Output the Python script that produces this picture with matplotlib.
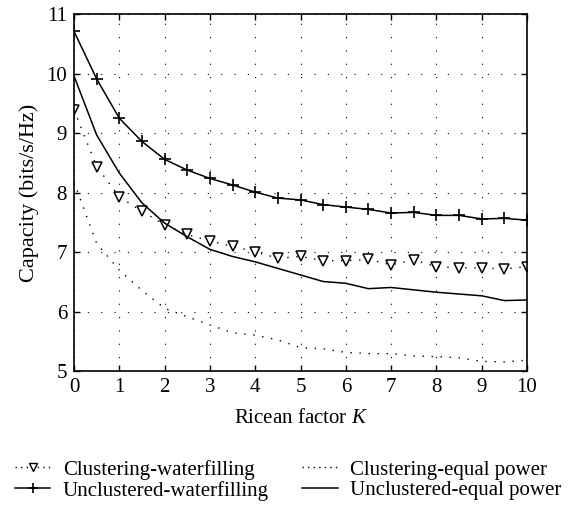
import matplotlib
matplotlib.use("Agg")
import matplotlib.pyplot as plt
from matplotlib.lines import Line2D

K = [0, 0.5, 1, 1.5, 2, 2.5, 3, 3.5, 4, 4.5, 5, 5.5, 6, 6.5, 7, 7.5, 8, 8.5, 9, 9.5, 10]

clustering_wf = [9.39, 8.44, 7.93, 7.69, 7.46, 7.30, 7.19, 7.10, 7.01, 6.90, 6.93, 6.86, 6.86,
                 6.88, 6.79, 6.87, 6.76, 6.74, 6.74, 6.72, 6.76]
unclustered_wf = [10.71, 9.91, 9.25, 8.86, 8.56, 8.38, 8.24, 8.13, 8.01, 7.91, 7.88, 7.80, 7.76,
                  7.72, 7.66, 7.67, 7.62, 7.62, 7.56, 7.57, 7.54]
clustering_eq = [8.18, 7.15, 6.70, 6.36, 6.06, 5.92, 5.78, 5.65, 5.61, 5.53, 5.40, 5.38, 5.32,
                 5.30, 5.30, 5.26, 5.25, 5.23, 5.17, 5.16, 5.19]
unclustered_eq = [9.96, 8.97, 8.33, 7.83, 7.49, 7.26, 7.05, 6.93, 6.84, 6.73, 6.62, 6.51, 6.48,
                  6.39, 6.41, 6.37, 6.33, 6.30, 6.27, 6.19, 6.20]

labels = ["Clustering-waterfilling", "Unclustered-waterfilling",
          "Clustering-equal power", "Unclustered-equal power"]

plt.rcParams['font.family'] = ['Liberation Serif', 'DejaVu Serif']
plt.rcParams['mathtext.fontset'] = 'custom'
plt.rcParams['mathtext.it'] = 'Liberation Serif:italic'
plt.rcParams['mathtext.rm'] = 'Liberation Serif'

fig = plt.figure(figsize=(5.71, 5.07), dpi=100)
ax = fig.add_axes([0.1296, 0.2673, 0.7934, 0.7051])

lw = 1.1
dot = (0, (1, 5.5))
ax.plot(K, clustering_wf, color='black', linestyle=dot, lw=1.0,
        marker='v', markersize=7, markerfacecolor='white', markeredgecolor='black',
        markeredgewidth=1.1)
ax.plot(K, unclustered_wf, color='black', linestyle='-', lw=lw,
        marker='+', markersize=8, markeredgewidth=1.2)
ax.plot(K, clustering_eq, color='black', linestyle=dot, lw=1.0)
ax.plot(K, unclustered_eq, color='black', linestyle='-', lw=lw)

ax.set_xlim(0, 10)
ax.set_ylim(5, 11)
ax.set_xticks(range(0, 11))
ax.set_yticks(range(5, 12))
ax.grid(True, color='black', linestyle=(0, (1, 11)), lw=0.8)
ax.tick_params(direction='in', top=True, right=True, length=4, width=1, labelsize=15, pad=5)
for s in ax.spines.values():
    s.set_linewidth(1.2)

ax.set_xlabel(r"Ricean factor $K$", fontsize=15, labelpad=8)
ax.set_ylabel("Capacity (bits/s/Hz)", fontsize=16, labelpad=5)

handles = [
    Line2D([], [], color='black', linestyle=(0, (1, 3)), lw=1.0, marker='v', markersize=6,
           markerfacecolor='white', markeredgecolor='black'),
    Line2D([], [], color='black', linestyle='-', lw=lw, marker='+', markersize=7,
           markeredgewidth=1.2),
    Line2D([], [], color='black', linestyle=(0, (1, 3)), lw=1.0),
    Line2D([], [], color='black', linestyle='-', lw=lw),
]
fig.legend(handles, labels, loc='upper left', bbox_to_anchor=(0.026, 0.093), ncol=2,
           frameon=False, fontsize=15, handlelength=1.7, handletextpad=0.6,
           columnspacing=1.6, labelspacing=0.05, borderpad=0, borderaxespad=0)

fig.savefig("out.png", dpi=100)
